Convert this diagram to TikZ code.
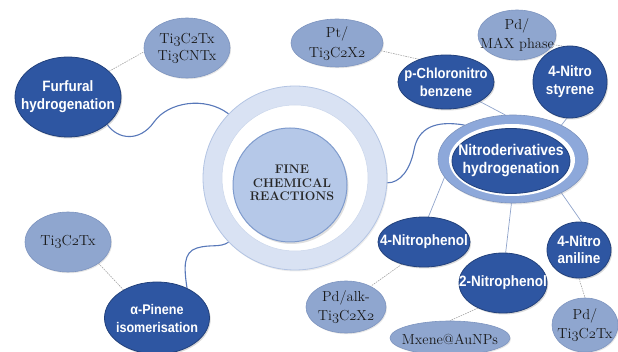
\documentclass[tikz,border=0pt]{standalone}
\usepackage{fontspec}
\newfontfamily\labfont[FakeStretch=0.9]{Liberation Sans}
\usetikzlibrary{shapes.geometric,shadows}
\newcommand\osn[1]{{\usefont{OML}{cmm}{m}{it}#1}}
\definecolor{dkblue}{HTML}{2E56A2}
\definecolor{dkedge}{HTML}{22417C}
\definecolor{ltblue}{HTML}{8FA6CF}
\definecolor{ltedge}{HTML}{7D94BF}
\definecolor{ringfill}{HTML}{D9E2F3}
\definecolor{ringedge}{HTML}{B3C4E3}
\definecolor{corefill}{HTML}{B5C8E8}
\definecolor{coreedge}{HTML}{7F9BCD}
\definecolor{nitroring}{HTML}{8DA8DA}
\definecolor{wavecol}{HTML}{5878B9}
\definecolor{linkcol}{HTML}{8FA3CB}
\definecolor{dotcol}{HTML}{A3A3A3}
\pgfdeclarelayer{bg}
\pgfsetlayers{bg,main}
\begin{document}
\begin{tikzpicture}[x=1pt,y=-1pt,
  sz/.style 2 args={minimum width=#1pt, minimum height=#2pt},
  dk/.style={ellipse, fill=dkblue, draw=dkedge, line width=0.8pt, inner sep=0pt,
    drop shadow={opacity=0.3, shadow xshift=1.2pt, shadow yshift=-1.5pt}},
  lt/.style={ellipse, fill=ltblue, draw=ltedge, line width=0.6pt, inner sep=0pt,
    drop shadow={opacity=0.2, shadow xshift=1pt, shadow yshift=-1.2pt}},
  dktext/.style={text=white, inner sep=0pt, align=center, font=\labfont\bfseries\fontsize{15}{18}\selectfont},
  lttext/.style={text=black!90, inner sep=0pt, align=center, font=\fontsize{14.5}{19}\selectfont},
  wave/.style={draw=wavecol, line width=1.1pt},
  link/.style={draw=linkcol, line width=0.7pt},
  dotlink/.style={draw=dotcol, line width=0.6pt, dash pattern=on 1.5pt off 1pt},
]
\useasboundingbox (0,0) rectangle (618,352);

% central element
\node[circle, fill=ringfill, draw=ringedge, line width=0.8pt, minimum size=184pt, inner sep=0pt,
  drop shadow={opacity=0.15, shadow xshift=1pt, shadow yshift=-1.5pt}] (ring) at (295,178) {};
\node[circle, fill=white, draw=ringedge!70, line width=0.5pt, minimum size=146pt, inner sep=0pt] (gap) at (295,178) {};
\node[circle, fill=corefill, draw=coreedge, line width=1pt, minimum size=114pt, inner sep=0pt,
  drop shadow={opacity=0.25, shadow xshift=1.5pt, shadow yshift=-2pt}] (core) at (290,185) {};
\node[font=\bfseries\fontsize{12.5}{13.5}\selectfont, align=center, text=black!85] (title) at (292,183) {FINE\\CHEMICAL\\REACTIONS};

% nitro derivatives hub
\node[ellipse, fill=nitroring, draw=ltedge, line width=0.6pt, sz={150}{88}, inner sep=0pt,
  drop shadow={opacity=0.2, shadow xshift=1pt, shadow yshift=-1.5pt}] (nitro) at (513,159) {};
\node[ellipse, fill=white, sz={126}{72}, inner sep=0pt] (nitrogap) at (512,160) {};
\node[ellipse, fill=dkblue, draw=dkedge, line width=0.8pt, sz={118}{65}, inner sep=0pt] (nitroin) at (511,161) {};
\node[dktext, font=\labfont\bfseries\fontsize{15.5}{18}\selectfont] (nitro-t) at (511,161) {Nitroderivatives\\hydrogenation};

% reaction nodes
\node[dk, sz={106}{80}] (fur) at (68,97) {};
\node[dktext] (fur-t) at (fur) {Furfural\\hydrogenation};
\node[dk, sz={96}{54}] (pcl) at (446,82) {};
\node[dktext, font=\labfont\bfseries\fontsize{14.5}{18}\selectfont] (pcl-t) at (pcl) {p-Chloronitro\\benzene};
\node[dk, sz={74}{72}] (nstyr) at (570,82) {};
\node[dktext] (nstyr-t) at (nstyr) {4-Nitro\\styrene};
\node[dk, sz={92}{50}] (np4) at (424,242) {};
\node[dktext] (np4-t) at (np4) {4-Nitrophenol};
\node[dk, sz={88}{60}] (np2) at (503,283) {};
\node[dktext] (np2-t) at (np2) {2-Nitrophenol};
\node[dk, sz={64}{56}] (nan) at (579,250) {};
\node[dktext, font=\labfont\bfseries\fontsize{15}{17}\selectfont] (nan-t) at (nan) {4-Nitro\\aniline};
\node[dk, sz={105}{72}] (pin) at (157,318) {};
\node[dktext, font=\labfont\bfseries\fontsize{14}{18}\selectfont] (pin-t) at (pin) {α-Pinene\\isomerisation};

% catalyst nodes
\node[lt, sz={86}{60}] (ti1) at (187,48) {};
\node[lttext, font=\fontsize{14.5}{17}\selectfont] (ti1-t) at (ti1) {Ti\osn3C\osn2Tx\\Ti\osn3CNTx};
\node[lt, sz={92}{48}] (pt) at (337,43) {};
\node[lttext, font=\fontsize{14.5}{20}\selectfont] (pt-t) at (pt) {Pt/\\Ti\osn3C\osn2X\osn2};
\node[lt, sz={78}{50}] (pdmax) at (517,35) {};
\node[lttext] (pdmax-t) at (pdmax) {Pd/\\MAX phase};
\node[lt, sz={80}{52}] (pdalk) at (346,307) {};
\node[lttext] (pdalk-t) at (pdalk) {Pd/alk-\\Ti\osn3C\osn2X\osn2};
\node[lt, sz={120}{34}] (mx) at (450,338) {};
\node[lttext] (mx-t) at ([yshift=-1pt]mx) {Mxene@AuNPs};
\node[lt, sz={66}{54}] (pdti) at (585,325) {};
\node[lttext] (pdti-t) at (pdti) {Pd/\\Ti\osn3C\osn2Tx};
\node[lt, sz={86}{60}] (ti2) at (68,242) {};
\node[lttext] (ti2-t) at (ti2) {Ti\osn3C\osn2Tx};

\begin{pgfonlayer}{bg}
\draw[wave] (fur.-35) .. controls (118,140) and (140,142) .. (154,122) .. controls (168,102) and (205,96) .. (ring.136);
\draw[wave] (ring.-3) .. controls (400,183) and (410,170) .. (414,150) .. controls (418,128) and (435,120) .. (nitro.145);
\draw[wave] (pin.45) .. controls (184,268) and (183,252) .. (197,248) .. controls (210,244) and (220,248) .. (ring.224);
\draw[dotlink] (fur.32) -- (ti1.185);
\draw[dotlink] (ti2.-35) -- (pin.140);
\draw[dotlink] (pt.350) -- (pcl.140);
\draw[dotlink] (pdmax.345) -- (nstyr.100);
\draw[dotlink] (np4.225) -- (pdalk.40);
\draw[dotlink] (np2.225) -- (mx.north);
\draw[dotlink] (nan.south) -- (pdti.north);
\draw[link] (pcl.-30) -- (nitro.100);
\draw[link] (nstyr.265) -- (nitro.35);
\draw[link] (nitro.195) -- (np4.80);
\draw[link] (nitro.268) -- (np2.85);
\draw[link] (nitro.-35) -- (nan.85);
\end{pgfonlayer}
\end{tikzpicture}
\end{document}
